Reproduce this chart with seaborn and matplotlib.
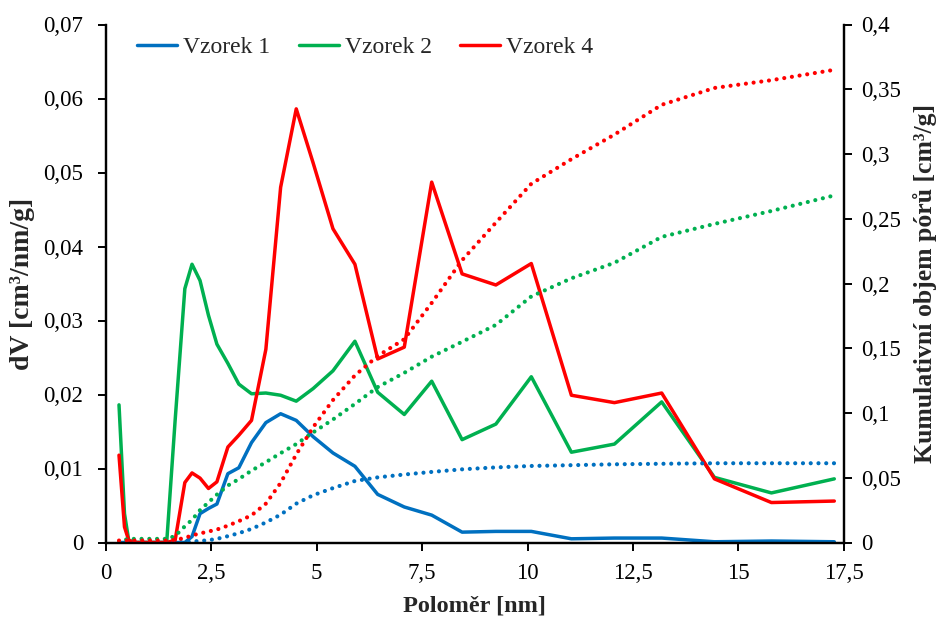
import matplotlib
matplotlib.use("Agg")
import matplotlib.pyplot as plt
from matplotlib.lines import Line2D
import numpy as np
import pandas as pd
import seaborn as sns

# Pore radius [nm]
radius = [0.32, 0.45, 0.55, 0.7, 0.9, 1.1, 1.3, 1.45, 1.65, 1.88, 2.05, 2.24,
          2.44, 2.64, 2.9, 3.16, 3.46, 3.8, 4.15, 4.52, 4.92, 5.39, 5.91, 6.45,
          7.08, 7.73, 8.45, 9.25, 10.09, 11.04, 12.06, 13.18, 14.43, 15.78, 17.27]

# Differential pore volume dV [cm3/nm/g]
dv_vzorek1 = [0, 0, 0, 0, 0, 0, 0, 0, 0, 0, 0.0008, 0.0039, 0.0046, 0.0052,
              0.0093, 0.0101, 0.0135, 0.0162, 0.0174, 0.0165, 0.0143, 0.0121,
              0.0103, 0.0065, 0.0048, 0.0037, 0.0014, 0.0015, 0.0015, 0.0005,
              0.0006, 0.0006, 0.0001, 0.0002, 0.0001]
dv_vzorek2 = [0.0186, 0.0039, 0.0003, 0, 0, 0, 0, 0, 0.0165, 0.0343, 0.0376,
              0.0354, 0.0307, 0.0268, 0.0242, 0.0214, 0.0201, 0.0202, 0.0199,
              0.0191, 0.0208, 0.0232, 0.0272, 0.0203, 0.0173, 0.0218, 0.0139,
              0.0160, 0.0224, 0.0122, 0.0133, 0.0190, 0.0088, 0.0067, 0.0086]
dv_vzorek4 = [0.0118, 0.0021, 0.0003, 0, 0, 0, 0, 0, 0.0003, 0.0081, 0.0094,
              0.0087, 0.0073, 0.0082, 0.0129, 0.0145, 0.0165, 0.0261, 0.0480,
              0.0586, 0.0513, 0.0424, 0.0376, 0.0248, 0.0264, 0.0487, 0.0363,
              0.0348, 0.0377, 0.0199, 0.0189, 0.0202, 0.0086, 0.0054, 0.0056]

# Cumulative pore volume [cm3/g]
cum_vzorek1 = [0, 0, 0, 0, 0, 0, 0, 0, 0, 0.0003, 0.0008, 0.0012, 0.0018,
               0.0028, 0.0049, 0.0072, 0.0105, 0.0155, 0.0215, 0.030, 0.0365,
               0.042, 0.0475, 0.0503, 0.0525, 0.0545, 0.0565, 0.058, 0.0591,
               0.0597, 0.0604, 0.0608, 0.0612, 0.0612, 0.0612]
cum_vzorek2 = [0.0, 0.002, 0.0028, 0.0028, 0.0028, 0.0028, 0.0028, 0.0028,
               0.005, 0.0125, 0.0175, 0.025, 0.031, 0.037, 0.044, 0.049,
               0.0555, 0.062, 0.069, 0.076, 0.085, 0.095, 0.107, 0.120, 0.131,
               0.1435, 0.155, 0.168, 0.190, 0.204, 0.216, 0.236, 0.246, 0.256,
               0.268]
cum_vzorek4 = [0.0015, 0.0015, 0.0015, 0.0015, 0.0015, 0.0015, 0.0015, 0.0015,
               0.002, 0.0035, 0.0055, 0.007, 0.0085, 0.010, 0.013, 0.0165,
               0.021, 0.030, 0.046, 0.068, 0.089, 0.110, 0.129, 0.144, 0.157,
               0.185, 0.218, 0.247, 0.277, 0.296, 0.315, 0.338, 0.351, 0.357,
               0.365]

samples = ["Vzorek 1", "Vzorek 2", "Vzorek 4"]
colors = ["#0070C0", "#00B050", "#FF0000"]

x_ticks = [0, 2.5, 5, 7.5, 10, 12.5, 15, 17.5]
x_tick_labels = ["0", "2,5", "5", "7,5", "10", "12,5", "15", "17,5"]
left_ticks = [0, 0.01, 0.02, 0.03, 0.04, 0.05, 0.06, 0.07]
left_tick_labels = ["0", "0,01", "0,02", "0,03", "0,04", "0,05", "0,06", "0,07"]
right_ticks = [0, 0.05, 0.1, 0.15, 0.2, 0.25, 0.3, 0.35, 0.4]
right_tick_labels = ["0", "0,05", "0,1", "0,15", "0,2", "0,25", "0,3", "0,35", "0,4"]

df = pd.concat([
    pd.DataFrame({"r": radius, "dV": dv, "cum": cum, "vzorek": name})
    for name, dv, cum in zip(samples,
                             [dv_vzorek1, dv_vzorek2, dv_vzorek4],
                             [cum_vzorek1, cum_vzorek2, cum_vzorek4])
], ignore_index=True)

sns.set_theme(style="white")
plt.rcParams["font.family"] = ["Liberation Serif", "DejaVu Serif"]

FS = 16.5
fig = plt.figure(figsize=(9.42, 6.17), dpi=100)
ax = fig.add_axes([105.5 / 942, (617 - 542.5) / 617, 738.5 / 942, 518 / 617])
ax2 = ax.twinx()

palette = dict(zip(samples, colors))
sns.lineplot(data=df, x="r", y="dV", hue="vzorek", palette=palette,
             linewidth=2.5, ax=ax, legend=False, sort=False)
for name in samples:
    sub = df[df["vzorek"] == name]
    sns.lineplot(x=sub["r"], y=sub["cum"], color=palette[name], ax=ax2,
                 linewidth=3.0, linestyle=(0, (0.01, 1.85)),
                 dash_capstyle="round", legend=False, sort=False)

ax.set_xlim(0, 17.5)
ax.set_ylim(0, 0.07)
ax2.set_ylim(0, 0.4)
ax.set_xticks(x_ticks)
ax.set_xticklabels(x_tick_labels, fontsize=FS)
ax.set_yticks(left_ticks)
ax.set_yticklabels(left_tick_labels, fontsize=FS)
ax2.set_yticks(right_ticks)
ax2.set_yticklabels(right_tick_labels, fontsize=FS)

ax.set_xlabel("Poloměr [nm]", fontsize=17.5, fontweight="bold", labelpad=8)
ax.set_ylabel("dV [cm³/nm/g]", fontsize=20, fontweight="bold", labelpad=6)
ax2.set_ylabel("Kumulativní objem pórů [cm³/g]", fontsize=18.5,
               fontweight="bold", labelpad=9)

for a in (ax, ax2):
    a.grid(False)
    a.spines["top"].set_visible(False)
    for s in ("left", "right", "bottom"):
        a.spines[s].set_color("black")
        a.spines[s].set_linewidth(1.6)
    a.tick_params(direction="out", length=6, width=1.4, colors="black",
                  labelcolor="black")
ax.tick_params(axis="x", bottom=True, pad=9)
ax.tick_params(axis="y", left=True, pad=10)
ax2.tick_params(axis="y", right=True, pad=6)
ax.set_facecolor("white")

handles = [Line2D([0], [0], color=c, linewidth=2.5) for c in colors]
ax.legend(handles, samples, loc="upper left", bbox_to_anchor=(0.03, 0.995),
          ncol=3, frameon=False, fontsize=17, handlelength=1.7,
          handletextpad=0.25, columnspacing=1.2, borderaxespad=0.0)

fig.savefig("out.png", dpi=100, facecolor="white")
